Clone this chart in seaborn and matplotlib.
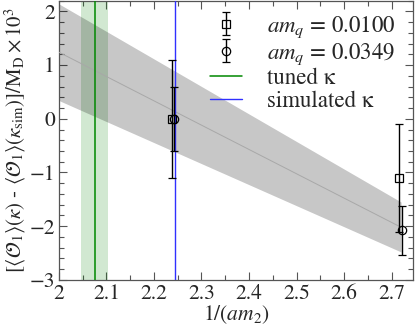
import matplotlib
matplotlib.use('Agg')
import matplotlib.pyplot as plt
from matplotlib.ticker import MultipleLocator, FuncFormatter
import pandas as pd
import seaborn as sns

# --- data ---
sq_x = [2.238, 2.716]          # am_q = 0.0100
sq_y = [0.0, -1.10]
sq_err = [1.10, 1.00]

ci_x = [2.243, 2.721]          # am_q = 0.0349
ci_y = [0.0, -2.08]
ci_err = [0.60, 0.45]

band_x = [2.0, 2.72]           # linear fit with error band
band_lo = [0.34, -2.48]
band_hi = [2.14, -1.55]
fit_y = [1.24, -2.02]

tuned_k = 2.075
tuned_k_lo, tuned_k_hi = 2.047, 2.103
sim_k = 2.245

sns.set_style('ticks')
plt.rcParams['font.family'] = ['STIXGeneral', 'DejaVu Serif']
plt.rcParams['mathtext.fontset'] = 'stix'
plt.rcParams['axes.unicode_minus'] = True

fig, ax = plt.subplots(figsize=(4.15, 3.32), dpi=100)
fig.subplots_adjust(left=0.142, right=0.995, top=0.998, bottom=0.157)

# tuned kappa band
ax.axvspan(tuned_k_lo, tuned_k_hi, color='green', alpha=0.18, lw=0, zorder=1)

# fit band
ax.fill_between(band_x, band_lo, band_hi, color='k', alpha=0.22, lw=0, zorder=2)
fit_df = pd.DataFrame({'x': band_x, 'y': fit_y})
sns.lineplot(data=fit_df, x='x', y='y', ax=ax, color='#a8a8a8', lw=0.7, zorder=3)

ax.axvline(tuned_k, color='#008800', lw=1.1, zorder=4, label=r'tuned κ')
ax.axvline(sim_k, color='#3030ff', lw=1.0, zorder=4, label=r'simulated κ')

ax.errorbar(sq_x, sq_y, yerr=sq_err, fmt='s', ms=5.5, mfc='none', mec='k', mew=0.9,
            ecolor='k', elinewidth=1.0, capsize=3, capthick=1.0, zorder=5,
            label='$am_q$ = 0.0100')
ax.errorbar(ci_x, ci_y, yerr=ci_err, fmt='o', ms=6, mfc='none', mec='k', mew=0.9,
            ecolor='k', elinewidth=1.0, capsize=3, capthick=1.0, zorder=5,
            label='$am_q$ = 0.0349')

ax.set_xlim(2.0, 2.745)
ax.set_ylim(-3.0, 2.2)

ax.xaxis.set_major_locator(MultipleLocator(0.1))
ax.xaxis.set_minor_locator(MultipleLocator(0.05))
ax.yaxis.set_major_locator(MultipleLocator(1))
ax.yaxis.set_minor_locator(MultipleLocator(0.2))
ax.xaxis.set_major_formatter(FuncFormatter(lambda v, p: f'{v:g}'))
ax.yaxis.set_major_formatter(FuncFormatter(lambda v, p: f'{v:g}'.replace('-', '\u2212')))

ax.tick_params(which='both', direction='in', top=True, right=True, color='#555555',
               labelsize=15.5, pad=3)
ax.tick_params(which='major', length=6, width=0.8)
ax.tick_params(which='minor', length=3.5, width=0.8)
for s in ax.spines.values():
    s.set_color('#555555')
    s.set_linewidth(0.9)

ax.set_xlabel(r'$1/(am_2)$', fontsize=15.5, labelpad=0)
ax.set_ylabel(r'$[\langle\boldsymbol{\mathcal{O}}_1\rangle(\kappa)$ - $\langle\boldsymbol{\mathcal{O}}_1\rangle(\kappa_{\rm sim})]/{\rm M_D}\times10^3$',
              fontsize=15, labelpad=1)

handles, labels = ax.get_legend_handles_labels()
order = [2, 3, 0, 1]
ax.legend([handles[i] for i in order], [labels[i] for i in order],
          loc='upper right', frameon=False, fontsize=16.5, handlelength=1.4,
          labelspacing=0.05, handletextpad=1.1, borderaxespad=0.2,
          bbox_to_anchor=(0.99, 1.0))

fig.savefig('out.png', dpi=100)
